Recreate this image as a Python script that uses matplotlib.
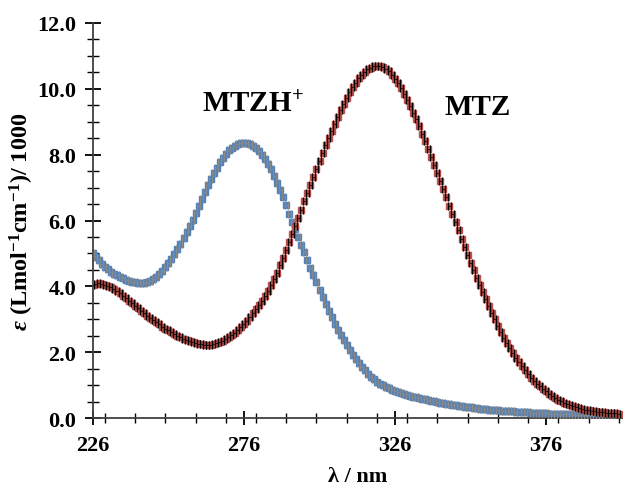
import matplotlib
matplotlib.use("Agg")
import matplotlib.pyplot as plt
from matplotlib.ticker import MultipleLocator

# wavelength grid, 1 nm steps
wavelength = list(range(226, 401))

# MTZ (neutral form), epsilon / 1000
mtz = [
    4.05, 4.08, 4.09, 4.08, 4.05, 4.01, 3.97, 3.92, 3.86, 3.79,
    3.72, 3.65, 3.57, 3.49, 3.41, 3.33, 3.25, 3.18, 3.11, 3.05,
    2.98, 2.91, 2.85, 2.78, 2.72, 2.66, 2.61, 2.55, 2.50, 2.45,
    2.41, 2.37, 2.33, 2.30, 2.28, 2.26, 2.24, 2.23, 2.23, 2.23,
    2.25, 2.27, 2.30, 2.34, 2.39, 2.45, 2.52, 2.59, 2.67, 2.77,
    2.86, 2.96, 3.07, 3.18, 3.30, 3.43, 3.56, 3.70, 3.86, 4.03,
    4.22, 4.42, 4.64, 4.87, 5.10, 5.34, 5.58, 5.83, 6.08, 6.33,
    6.60, 6.85, 7.09, 7.33, 7.57, 7.81, 8.05, 8.28, 8.50, 8.72,
    8.94, 9.15, 9.35, 9.54, 9.72, 9.89, 10.05, 10.19, 10.32, 10.43,
    10.52, 10.59, 10.64, 10.68, 10.70, 10.69, 10.66, 10.61, 10.53, 10.43,
    10.31, 10.17, 10.01, 9.84, 9.66, 9.47, 9.27, 9.07, 8.86, 8.64,
    8.41, 8.18, 7.94, 7.70, 7.45, 7.20, 6.95, 6.70, 6.45, 6.20,
    5.95, 5.70, 5.45, 5.20, 4.96, 4.72, 4.49, 4.26, 4.04, 3.82,
    3.61, 3.40, 3.20, 3.00, 2.81, 2.62, 2.44, 2.28, 2.12, 1.97,
    1.83, 1.70, 1.57, 1.45, 1.34, 1.23, 1.13, 1.04, 0.96, 0.88,
    0.81, 0.74, 0.68, 0.62, 0.56, 0.51, 0.47, 0.43, 0.39, 0.36,
    0.33, 0.30, 0.28, 0.26, 0.24, 0.22, 0.21, 0.19, 0.18, 0.17,
    0.16, 0.15, 0.14, 0.14, 0.13,
]

# MTZH+ (protonated form), epsilon / 1000
mtzh = [
    5.02, 4.90, 4.79, 4.68, 4.60, 4.52, 4.45, 4.39, 4.34, 4.29,
    4.24, 4.20, 4.17, 4.14, 4.12, 4.11, 4.10, 4.11, 4.13, 4.17,
    4.22, 4.29, 4.38, 4.48, 4.59, 4.71, 4.84, 4.98, 5.13, 5.29,
    5.46, 5.64, 5.83, 6.03, 6.24, 6.45, 6.66, 6.87, 7.07, 7.26,
    7.44, 7.61, 7.77, 7.91, 8.03, 8.13, 8.21, 8.27, 8.31, 8.34,
    8.35, 8.34, 8.31, 8.26, 8.19, 8.10, 8.00, 7.87, 7.72, 7.55,
    7.36, 7.15, 6.93, 6.70, 6.46, 6.21, 5.96, 5.74, 5.50, 5.26,
    5.03, 4.80, 4.57, 4.34, 4.12, 3.90, 3.68, 3.47, 3.26, 3.06,
    2.87, 2.69, 2.52, 2.36, 2.21, 2.07, 1.93, 1.80, 1.68, 1.56,
    1.45, 1.35, 1.26, 1.18, 1.11, 1.05, 0.99, 0.94, 0.90, 0.86,
    0.82, 0.79, 0.76, 0.73, 0.70, 0.68, 0.65, 0.63, 0.61, 0.59,
    0.57, 0.55, 0.53, 0.51, 0.49, 0.47, 0.46, 0.44, 0.42, 0.41,
    0.39, 0.38, 0.36, 0.35, 0.34, 0.33, 0.31, 0.30, 0.29, 0.28,
    0.27, 0.26, 0.25, 0.24, 0.24, 0.23, 0.22, 0.21, 0.21, 0.20,
    0.19, 0.19, 0.18, 0.17, 0.17, 0.16, 0.16, 0.15, 0.15, 0.14,
    0.14, 0.13, 0.13, 0.13, 0.12, 0.12, 0.11, 0.11, 0.11, 0.10,
    0.10, 0.10, 0.10, 0.09, 0.09, 0.09, 0.09, 0.08, 0.08, 0.08,
    0.08, 0.08, 0.07, 0.07, 0.07,
]

x_err = 0.5  # nm, horizontal error bars

x_ticks = [226, 276, 326, 376]


def main():
    plt.rcParams['font.family'] = ['Liberation Serif', 'DejaVu Serif']
    plt.rcParams['font.weight'] = 'bold'
    plt.rcParams['mathtext.fontset'] = 'custom'
    plt.rcParams['mathtext.rm'] = 'Liberation Serif:bold'
    plt.rcParams['mathtext.it'] = 'Liberation Serif:italic:bold'
    plt.rcParams['mathtext.bf'] = 'Liberation Serif:bold'

    fig = plt.figure(figsize=(6.23, 4.89), dpi=100)
    ax = fig.add_axes([0.149, 0.143, 0.849, 0.808])

    # MTZH+ (blue)
    ax.plot(wavelength, mtzh, ls='none', marker='s', ms=3.8,
            mfc='#4F81BD', mec='#4F81BD', zorder=2)
    ax.errorbar(wavelength, mtzh, xerr=x_err, fmt='none', ecolor='#8a8a8a',
                elinewidth=0.5, capsize=2.8, capthick=0.9, zorder=3)

    # MTZ (red)
    ax.plot(wavelength, mtz, ls='none', marker='s', ms=3.8,
            mfc='#C0504D', mec='#C0504D', zorder=4)
    ax.errorbar(wavelength, mtz, xerr=x_err, fmt='none', ecolor='black',
                elinewidth=0.5, capsize=2.8, capthick=0.9, zorder=5)

    ax.set_xlim(226, 401)
    ax.set_ylim(0, 12)

    ax.set_xticks(x_ticks)
    ax.xaxis.set_minor_locator(MultipleLocator(10))
    ax.yaxis.set_major_locator(MultipleLocator(2))
    ax.yaxis.set_minor_locator(MultipleLocator(0.5))
    ax.yaxis.set_major_formatter(plt.FormatStrFormatter('%.1f'))

    for side in ['top', 'right']:
        ax.spines[side].set_visible(False)
    for side in ['left', 'bottom']:
        ax.spines[side].set_color('#404040')
        ax.spines[side].set_linewidth(1.3)

    ax.tick_params(which='major', direction='inout', length=10, width=1.3,
                   color='black', labelsize=16, pad=7)
    ax.tick_params(which='minor', direction='inout', length=7, width=1.0,
                   color='black')
    ax.tick_params(axis='y', which='major', length=12, pad=6)
    ax.tick_params(axis='y', which='minor', length=9)
    for lbl in ax.get_xticklabels() + ax.get_yticklabels():
        lbl.set_fontweight('bold')

    ax.set_xlabel('λ / nm', fontsize=16, fontweight='bold', labelpad=8)
    ax.set_ylabel(r'$\varepsilon$ (Lmol$^{-1}$cm$^{-1}$)/ 1000',
                  fontsize=17.5, fontweight='bold', labelpad=1)

    ax.text(262, 9.33, r'MTZH$^{+}$', fontsize=21, fontweight='bold',
            ha='left', va='baseline')
    ax.text(342.2, 9.24, 'MTZ', fontsize=21, fontweight='bold',
            ha='left', va='baseline')

    fig.savefig('out.png', dpi=100)


if __name__ == "__main__":
    main()
